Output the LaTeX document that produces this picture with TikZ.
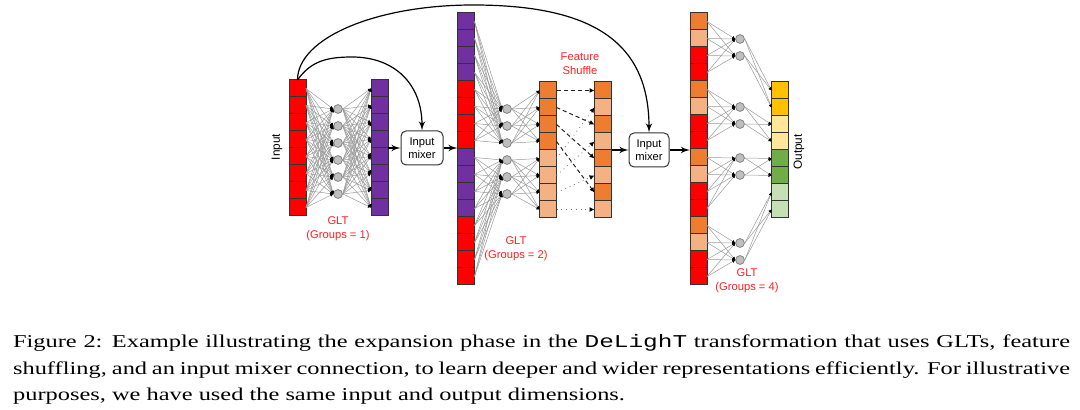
\documentclass[tikz,border=0pt]{standalone}
\usepackage{fontspec}
\setmainfont{Liberation Serif}
\setsansfont{Liberation Sans}
\setmonofont{Liberation Mono}
\usepackage{graphicx}
\usepackage{xcolor}
\usepackage{tikz}
\usetikzlibrary{arrows,arrows.meta,positioning,calc}

\definecolor{glred}{HTML}{FF0000}
\definecolor{glpurple}{HTML}{7030A0}
\definecolor{gldark}{HTML}{ED7D31}
\definecolor{gllight}{HTML}{F4B183}
\definecolor{glgold}{HTML}{FFC000}
\definecolor{glcream}{HTML}{FFE699}
\definecolor{glgreen}{HTML}{70AD47}
\definecolor{glmint}{HTML}{C5E0B4}
\definecolor{gllabel}{HTML}{FF2020}

\begin{document}
\begin{tikzpicture}[
        x=0.5pt, y=0.5pt,
        cell/.style={rectangle, draw=black!80, minimum size=8.5pt, inner sep=0pt, outer sep=0pt, line width=0.5pt},
        neuron/.style={circle, draw=black!50, fill=black!25, minimum size=4.4pt, inner sep=0pt, line width=0.4pt},
        mixer/.style={rectangle, draw=black!80, fill=white, rounded corners=2.5pt, minimum height=17pt, align=center, inner sep=0pt, line width=0.5pt, font=\sffamily\fontsize{5.6}{6.7}\selectfont},
        line/.style={draw, -latex', line width=0.6pt},
        link/.style={draw=black!40, line width=0.25pt, -{Latex[length=1.5pt,width=1.6pt,color=black]}},
        shufdash/.style={draw=black!85, line width=0.5pt, dash pattern=on 2pt off 1.5pt, -{Latex[length=2.5pt,width=2.5pt,color=black]}},
        shufdot/.style={draw=black!55, line width=0.4pt, dotted, -{Latex[length=2.5pt,width=2.5pt,color=black]}},
        annotation/.style={text=gllabel, align=center, font=\sffamily\fontsize{5.6}{7}\selectfont},
        sidelabel/.style={rotate=90, font=\sffamily\fontsize{5.9}{7}\selectfont}
    ]
    \useasboundingbox (0,0) rectangle (1080,-410);

    % Input and GLT (Groups = 1)
    \foreach \c [count=\i] in {glred,glred,glred,glred,glred,glred,glred,glred}
        \node [cell, fill=\c] (inp-\i) at (297.5,{-71.5-17*\i}) {};
    \foreach \i in {1,...,6}
        \node [neuron] (na-\i) at (338,{-92-17*\i}) {};
    \foreach \c [count=\i] in {glpurple,glpurple,glpurple,glpurple,glpurple,glpurple,glpurple,glpurple}
        \node [cell, fill=\c] (mid-\i) at (379.5,{-71.5-17*\i}) {};
    \node [sidelabel] (inlabel) at (277,-147) {Input};
    \node [annotation] (glta) at (338,-229) {GLT\\(Groups = 1)};

    % First input mixer
    \node [mixer, minimum width=21pt] (mixa) at (422,-148) {Input\\mixer};

    % Expanded column and GLT (Groups = 2)
    \foreach \c [count=\i] in {glpurple,glpurple,glpurple,glpurple,glred,glred,glred,glred,
                               glpurple,glpurple,glpurple,glpurple,glred,glred,glred,glred}
        \node [cell, fill=\c] (big-\i) at (466,{-4.5-17*\i}) {};
    \foreach \i in {1,...,6}
        \node [neuron] (nb-\i) at (507,{-92-17*\i}) {};
    \foreach \c [count=\i] in {gldark,gldark,gldark,gldark,gllight,gllight,gllight,gllight}
        \node [cell, fill=\c] (pre-\i) at (548,{-73.5-17*\i}) {};
    \foreach \c [count=\i] in {gldark,gllight,gldark,gllight,gldark,gllight,gldark,gllight}
        \node [cell, fill=\c] (shf-\i) at (603,{-73.5-17*\i}) {};
    \node [annotation] (gltb) at (516,-249) {GLT\\(Groups = 2)};
    \node [annotation] (shuffle) at (580,-63.5) {Feature\\Shuffle};

    % Second input mixer
    \node [mixer, minimum width=20pt] (mixb) at (649,-150) {Input\\mixer};

    % Widest column, GLT (Groups = 4) and output
    \foreach \c [count=\i] in {gldark,gllight,glred,glred,gldark,gllight,glred,glred,
                               gldark,gllight,glred,glred,gldark,gllight,glred,glred}
        \node [cell, fill=\c] (wide-\i) at (698.5,{-4.5-17*\i}) {};
    \foreach \y [count=\i] in {39,56,107,124,158,175,243,260}
        \node [neuron] (nc-\i) at (740,-\y) {};
    \foreach \c [count=\i] in {glgold,glgold,glcream,glcream,glgreen,glgreen,glmint,glmint}
        \node [cell, fill=\c] (out-\i) at (780,{-73.5-17*\i}) {};
    \node [sidelabel] (outlabel) at (799,-152) {Output};
    \node [annotation] (gltc) at (747,-281) {GLT\\(Groups = 4)};

    % Links - GLT (Groups = 1)
    \foreach \i in {1,...,8} {
        \foreach \j in {1,...,6} {
            \path [link] (inp-\i.east) -- (na-\j.west);
            \path [link] (na-\j.east) -- (mid-\i.west);
        }
    }

    % Links - GLT (Groups = 2)
    \foreach \g in {0,1} {
        \foreach \i in {1,...,8} {
            \foreach \j in {1,2,3} {
                \pgfmathtruncatemacro{\s}{8*\g+\i}
                \pgfmathtruncatemacro{\t}{3*\g+\j}
                \path [link] (big-\s.east) -- (nb-\t.west);
            }
        }
        \foreach \j in {1,2,3} {
            \foreach \k in {1,...,4} {
                \pgfmathtruncatemacro{\t}{3*\g+\j}
                \pgfmathtruncatemacro{\u}{4*\g+\k}
                \path [link] (nb-\t.east) -- (pre-\u.west);
            }
        }
    }

    % Feature shuffle
    \foreach \k in {1,...,4} {
        \pgfmathtruncatemacro{\odd}{2*\k-1}
        \pgfmathtruncatemacro{\even}{2*\k}
        \pgfmathtruncatemacro{\low}{4+\k}
        \path [shufdash] (pre-\k.east) -- (shf-\odd.west);
        \path [shufdot] (pre-\low.east) -- (shf-\even.west);
    }

    % Links - GLT (Groups = 4)
    \foreach \g in {0,...,3} {
        \foreach \i in {1,...,4} {
            \foreach \j in {1,2} {
                \pgfmathtruncatemacro{\s}{4*\g+\i}
                \pgfmathtruncatemacro{\t}{2*\g+\j}
                \path [link] (wide-\s.east) -- (nc-\t.west);
            }
        }
        \foreach \j in {1,2} {
            \foreach \k in {1,2} {
                \pgfmathtruncatemacro{\t}{2*\g+\j}
                \pgfmathtruncatemacro{\u}{2*\g+\k}
                \path [link] (nc-\t.east) -- (out-\u.west);
            }
        }
    }

    % Mixer connections
    \path [line] (mid-4.south east) -- (mixa.west);
    \path [line] (mixa.east) -- (mixa.east -| big-1.west);
    \path [line] (shf-4.south east) -- (shf-4.south east -| mixb.west);
    \path [line] (mixb.east) -- (mixb.east -| wide-1.west);

    % Skip connections from the input
    \coordinate (arca) at (352,-57);
    \coordinate (arcb) at (473,-5);
    \path [line] (inp-1.north) .. controls +(13,18) and +(-27,0) .. (arca)
        .. controls +(43,0) and +(0,46) .. (mixa.north);
    \path [line] (inp-1.north) .. controls +(0,42) and +(-97,0) .. (arcb)
        .. controls +(117,0) and +(0,92) .. (mixb.north);

    % Caption
    \node [anchor=base west, inner sep=0pt] (caption) at (12.7,-348)
        {\scalebox{1}[0.74]{\parbox[t]{528.5pt}{\fontsize{12.2}{17.6}\selectfont
        Figure 2: Example illustrating the expansion phase in the \texttt{DeLighT} transformation that uses GLTs, feature\linebreak
        shuffling, and an input mixer connection, to learn deeper and wider representations efficiently. For illustrative\linebreak
        purposes, we have used the same input and output dimensions.}}};

\end{tikzpicture}
\end{document}
